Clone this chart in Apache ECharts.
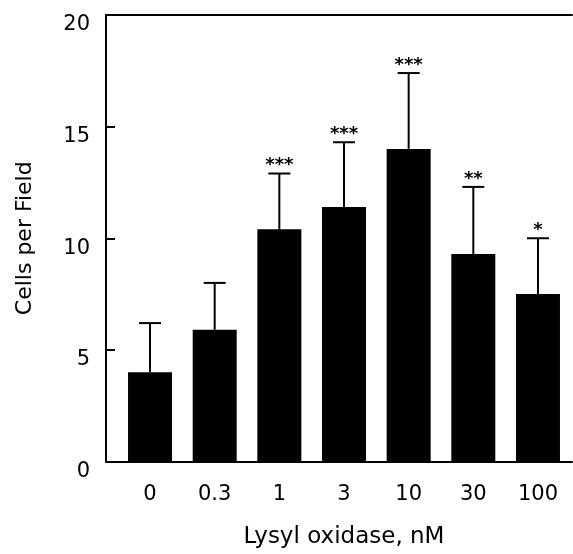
<!DOCTYPE html>
<html>
<head>
<meta charset="utf-8">
<script src="https://cdn.jsdelivr.net/npm/echarts@6/dist/echarts.min.js"></script>
<style>
html,body{margin:0;padding:0;background:#fff;}
#chart{width:573px;height:554px;}
</style>
</head>
<body>
<div id="chart"></div>
<script>
var categories = ['0', '0.3', '1', '3', '10', '30', '100'];
var means = [4.0, 5.9, 10.4, 11.4, 14.0, 9.3, 7.5];
var errors = [2.2, 2.1, 2.5, 2.9, 3.4, 3.0, 2.5];
var significance = ['', '', '***', '***', '***', '**', '*'];
var yTicks = [0, 5, 10, 15, 20];

var FONT = '"DejaVu Sans", "Liberation Sans", Arial, sans-serif';

var errData = means.map(function (m, i) { return [i, m + errors[i], m]; });

var chart = echarts.init(document.getElementById('chart'));
chart.setOption({
  animation: false,
  backgroundColor: '#fff',
  grid: [
    { left: 117.7, right: 2.7, top: 15, bottom: 92 },
    { left: 106, right: 1, top: 15, bottom: 92 }
  ],
  xAxis: [
    {
      type: 'category', gridIndex: 0, data: categories,
      axisLine: { show: false }, axisTick: { show: false },
      axisLabel: { color: '#000', fontSize: 21, fontFamily: FONT, margin: 23 },
      name: 'Lysyl oxidase, nM', nameLocation: 'middle', nameGap: 76,
      nameTextStyle: { color: '#000', fontSize: 23, fontFamily: FONT, verticalAlign: 'middle' }
    },
    {
      type: 'value', gridIndex: 1, position: 'bottom', min: 0, max: 1,
      axisLine: { show: true, lineStyle: { color: '#000', width: 2 } },
      axisTick: { show: false }, axisLabel: { show: false }, splitLine: { show: false }
    },
    {
      type: 'value', gridIndex: 1, position: 'top', min: 0, max: 1,
      axisLine: { show: true, lineStyle: { color: '#000', width: 2 } },
      axisTick: { show: false }, axisLabel: { show: false }, splitLine: { show: false }
    }
  ],
  yAxis: [
    {
      type: 'value', gridIndex: 0, min: yTicks[0], max: yTicks[yTicks.length - 1], interval: 5,
      offset: 11.7,
      axisLine: { show: true, lineStyle: { color: '#000', width: 2 } },
      axisTick: { show: true, inside: true, length: 9, lineStyle: { color: '#000', width: 2 } },
      axisLabel: {
        color: '#000', fontSize: 21, fontFamily: FONT, margin: 16,
        formatter: function (v) { return '{a|' + v + '}'; },
        rich: { a: { color: '#000', fontSize: 21, fontFamily: FONT, padding: [20, 0, 0, 0] } }
      },
      splitLine: { show: false },
      name: 'Cells per Field', nameLocation: 'middle', nameGap: 81,
      nameTextStyle: { color: '#000', fontSize: 22, fontFamily: FONT, verticalAlign: 'middle' }
    },
    {
      type: 'value', gridIndex: 1, show: false, min: 0, max: 1
    }
  ],
  series: [
    {
      type: 'bar', xAxisIndex: 0, yAxisIndex: 0, data: means,
      barWidth: 44,
      itemStyle: { color: '#000' },
      z: 2
    },
    {
      type: 'custom', xAxisIndex: 0, yAxisIndex: 0, data: errData, z: 5,
      renderItem: function (params, api) {
        var i = api.value(0);
        var top = api.coord([i, api.value(1)]);
        var bot = api.coord([i, api.value(2)]);
        var hw = 11;
        return {
          type: 'group',
          children: [
            { type: 'line', shape: { x1: top[0], y1: top[1], x2: bot[0], y2: bot[1] },
              style: { stroke: '#000', lineWidth: 2 } },
            { type: 'line', shape: { x1: top[0] - hw, y1: top[1], x2: top[0] + hw, y2: top[1] },
              style: { stroke: '#000', lineWidth: 2 } },
            { type: 'text', x: top[0], y: top[1] - 8,
              style: { text: significance[i], fill: '#000', font: 'bold 18px ' + FONT,
                       align: 'center', verticalAlign: 'middle' } }
          ]
        };
      }
    }
  ]
});
</script>
</body>
</html>
